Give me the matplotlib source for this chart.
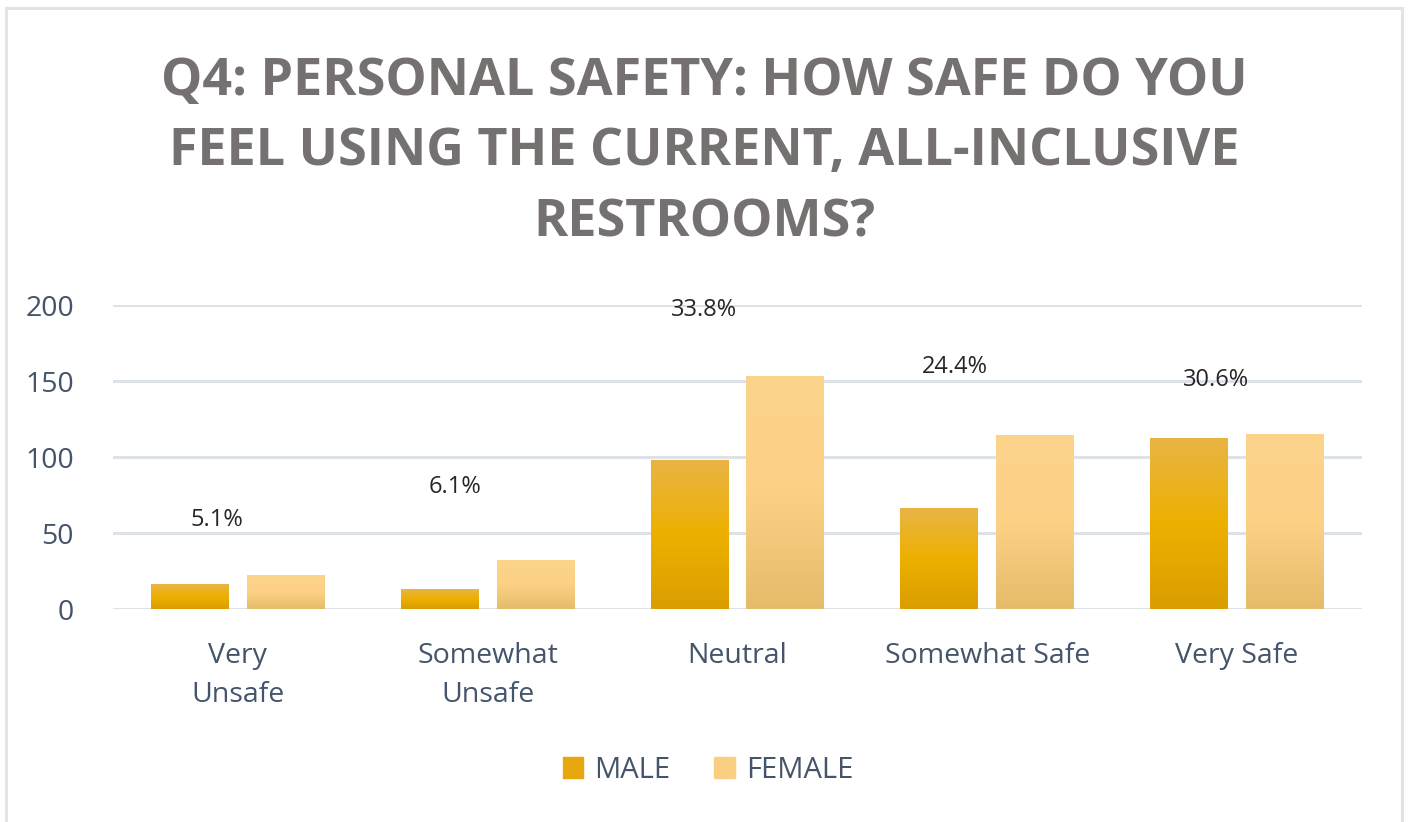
import numpy as np
import matplotlib
matplotlib.use('Agg')
import matplotlib.pyplot as plt
from matplotlib.colors import LinearSegmentedColormap
from matplotlib.patches import Rectangle

categories = ['Very\nUnsafe', 'Somewhat\nUnsafe', 'Neutral', 'Somewhat Safe', 'Very Safe']
male = [16, 13, 98, 66, 112]
female = [22, 32, 153, 114, 115]
pct_labels = ['5.1%', '6.1%', '33.8%', '24.4%', '30.6%']
pct_y = [58.5, 80, 196.5, 159, 150.5]
pct_dx = [-0.084, -0.132, -0.136, -0.128, -0.084]   # label shift from group centre
title = 'Q4: PERSONAL SAFETY: HOW SAFE DO YOU\nFEEL USING THE CURRENT, ALL-INCLUSIVE\nRESTROOMS?'

plt.rcParams['font.family'] = ['Open Sans', 'DejaVu Sans']

fig = plt.figure(figsize=(14.08, 8.22), dpi=100)
ax = fig.add_axes([113/1408, 1-609/822, (1362-113)/1408, (609-305)/822])

# outer chart border
fig.patches.append(Rectangle((6/1408, -0.01), 1396/1408, 1.0, transform=fig.transFigure,
                             fill=False, edgecolor='#DFE3EA', linewidth=2.2))

male_cmap = LinearSegmentedColormap.from_list('m', ['#DA9E00', '#EDB000', '#E9B445'])
fem_cmap = LinearSegmentedColormap.from_list('f', ['#E4BC69', '#FCD186', '#FDD48C'])

x = np.arange(len(categories))
w = 0.312
off = 0.192
bars_m = ax.bar(x - off, male, w, color='none', zorder=3)
bars_f = ax.bar(x + off, female, w, color='none', zorder=3)

grad = np.linspace(0, 1, 256).reshape(-1, 1)
for bars, cmap in [(bars_m, male_cmap), (bars_f, fem_cmap)]:
    for b in bars:
        x0 = b.get_x()
        h = b.get_height()
        ax.imshow(grad, cmap=cmap, aspect='auto', origin='lower',
                  extent=[x0, x0 + b.get_width(), 0, h], zorder=3)

for xi, lab, yy, dx in zip(x, pct_labels, pct_y, pct_dx):
    ax.text(xi + dx, yy, lab, ha='center', va='center', fontsize=17, color='#262626')

ax.set_xlim(-0.5, len(categories) - 0.5)
ax.set_ylim(0, 200)
ax.set_yticks([0, 50, 100, 150, 200])
ax.set_xticks(x)
ax.set_xticklabels(categories, linespacing=1.5)
ax.tick_params(axis='both', length=0, labelsize=20.5, labelcolor='#44546A')
ax.tick_params(axis='x', pad=24)
ax.tick_params(axis='y', pad=28)
ax.grid(axis='y', color='#DDE1E8', linewidth=2.2, zorder=0)
for s in ax.spines.values():
    s.set_visible(False)

fig.text(0.5, 1-152/822, title, ha='center', va='center', fontsize=37.5, fontweight='bold',
         color='#767171', linespacing=1.44)

handles = [Rectangle((0, 0), 1, 1, color='#E6A80E'), Rectangle((0, 0), 1, 1, color='#FBCF82')]
fig.legend(handles, ['MALE', 'FEMALE'], loc='center', bbox_to_anchor=(0.503, 1-770/822),
           ncol=2, frameon=False, fontsize=21, labelcolor='#44546A',
           handlelength=0.7, handleheight=0.7, handletextpad=0.4, columnspacing=1.5)

fig.savefig('out.png', dpi=100)
